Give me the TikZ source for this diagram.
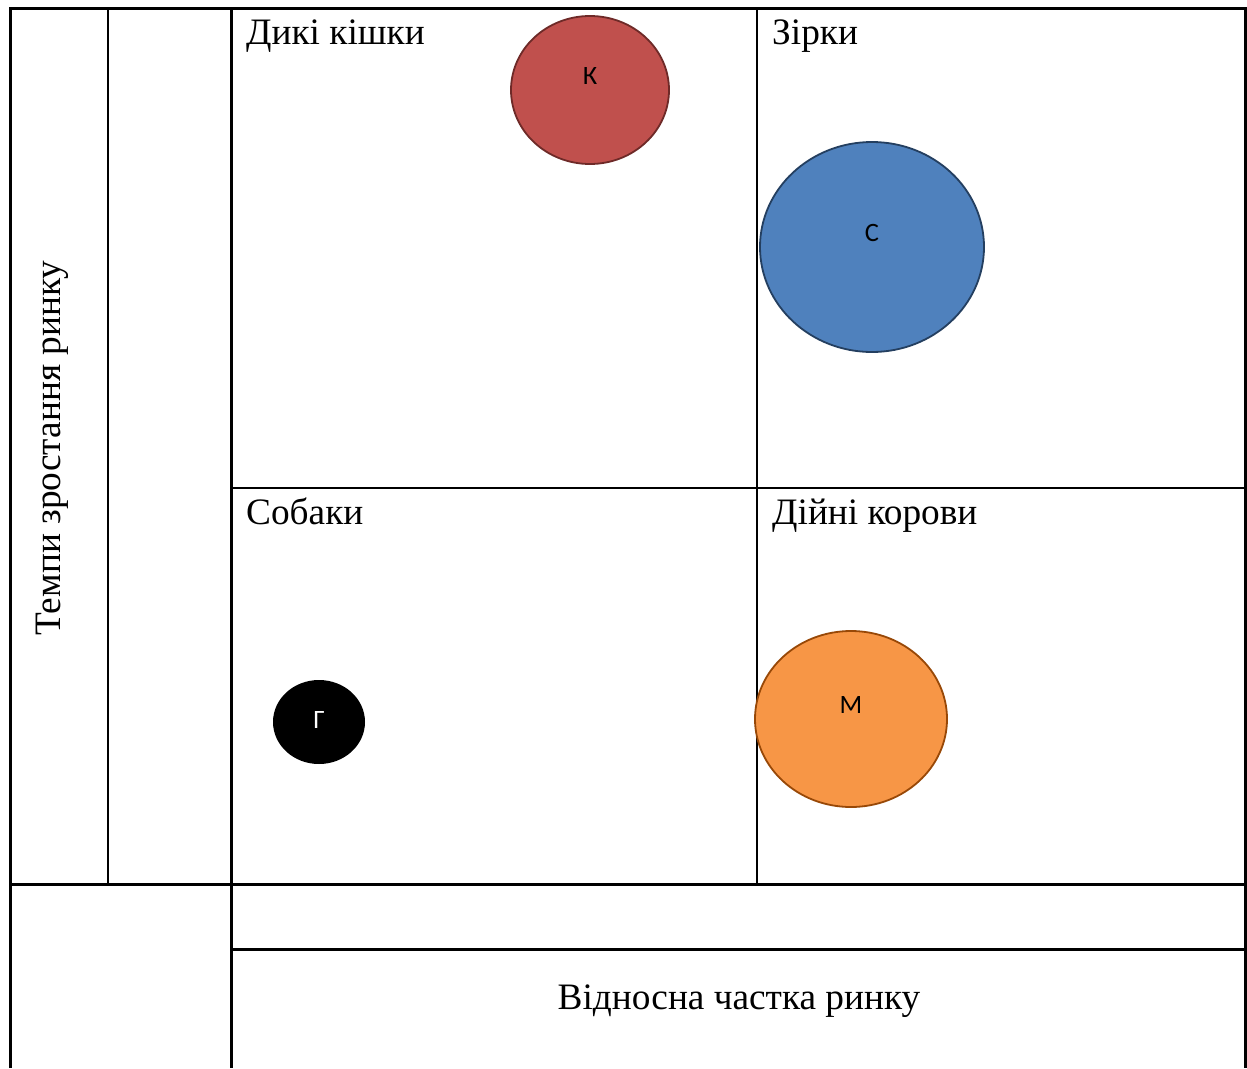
\documentclass[tikz,border=0pt]{standalone}
\usepackage{fontspec}
\setmainfont{Liberation Serif}
\newfontfamily\lblfont{Carlito}
\definecolor{kfill}{HTML}{C0504D}\definecolor{kdraw}{HTML}{6E2A28}
\definecolor{sfill}{HTML}{4F81BD}\definecolor{sdraw}{HTML}{243F60}
\definecolor{mfill}{HTML}{F79646}\definecolor{mdraw}{HTML}{984807}
\begin{document}
\begin{tikzpicture}[x=1pt,y=-1pt,
  thick line/.style={line width=3pt},
  thin line/.style={line width=2pt},
  quad/.style={anchor=base west,font=\fontsize{37.3}{42}\selectfont,inner sep=0pt},
  blabel/.style={font=\lblfont\fontsize{26.5}{30}\selectfont,inner sep=0pt}]
\useasboundingbox (0,0) rectangle (1247,1068);
\fill[white] (0,0) rectangle (1247,1068);
% grid
\draw[thick line] (10,1068) -- (10,8) -- (1245,8) -- (1245,1068);
\draw[thin line] (108,8) -- (108,884);
\draw[thick line] (231,8) -- (231,1068);
\draw[thin line] (757,8) -- (757,884);
\draw[thin line] (231,488) -- (1245,488);
\draw[thick line] (10,884) -- (1245,884);
\draw[thick line] (231,949) -- (1245,949);
% texts
\node[quad] (t1) at (246,44) {Дикі кішки};
\node[quad] (t2) at (772,44) {Зірки};
\node[quad] (t3) at (246,524) {Собаки};
\node[quad] (t4) at (772,524) {Дійні корови};
\node[rotate=90,font=\fontsize{37.3}{42}\selectfont,inner sep=0pt] (ya) at (52,448) {Темпи зростання ринку};
\node[font=\fontsize{37.3}{42}\selectfont,inner sep=0pt] (xa) at (739,1001) {Відносна частка ринку};
% bubbles
\draw[fill=kfill,draw=kdraw,line width=1.8pt] (590,90) ellipse [x radius=79,y radius=74];
\node[blabel] (k) at (590,76) {К};
\draw[fill=sfill,draw=sdraw,line width=1.8pt] (872,247) ellipse [x radius=112,y radius=105];
\node[blabel] (s) at (872,233) {С};
\fill[black] (319,722) ellipse [x radius=46,y radius=42];
\node[blabel,text=white] (g) at (319,720) {Г};
\draw[fill=mfill,draw=mdraw,line width=1.8pt] (851,719) ellipse [x radius=96,y radius=88];
\node[blabel] (m) at (851,705) {М};
\end{tikzpicture}
\end{document}
